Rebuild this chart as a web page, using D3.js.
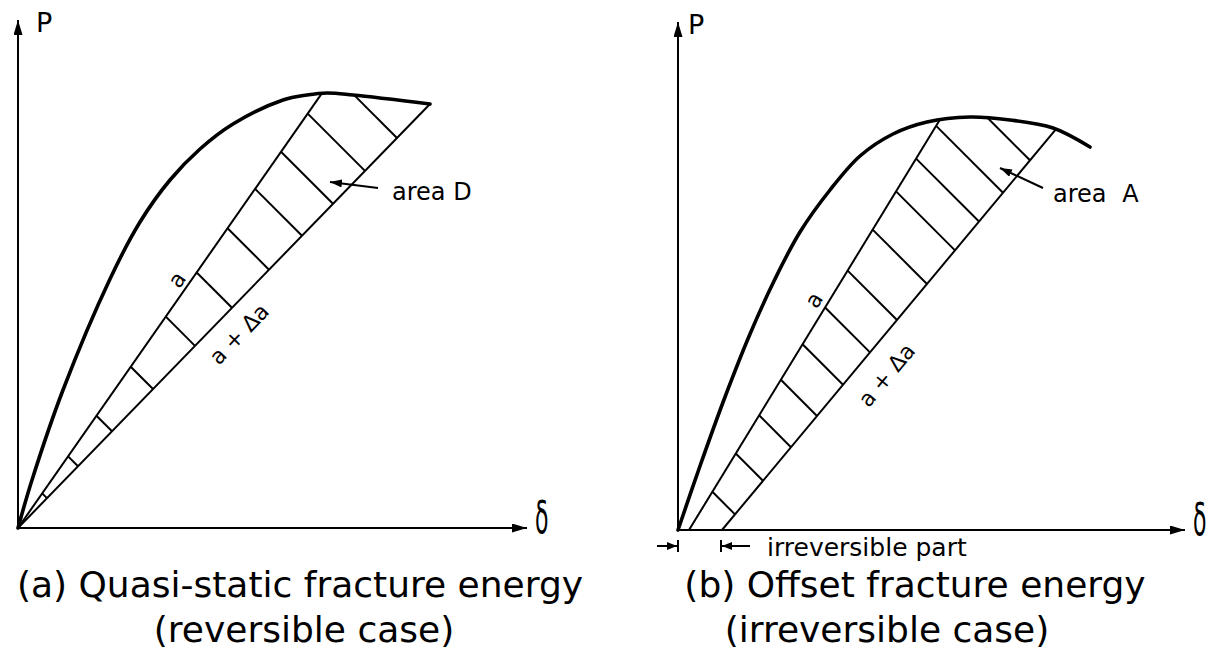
<!DOCTYPE html>
<html>
<head>
<meta charset="utf-8">
<script src="https://cdn.jsdelivr.net/npm/d3@7"></script>
<style>
  html, body { margin: 0; padding: 0; background: #fff; }
  svg { display: block; }
  text { font-family: "DejaVu Sans", sans-serif; fill: #000; }
</style>
</head>
<body>
<svg id="chart" width="1212" height="652"></svg>
<script>
// ---- Panel (a): quasi-static fracture energy (reversible case) ----
// load-displacement record, [δ, P]
const curveA = [[0, 0], [0.28, 0.96], [0.90, 2.76], [1.84, 4.98], [2.44, 6.12], [3.04, 6.96],
                [3.64, 7.58], [4.30, 8.08], [5.30, 8.56], [5.78, 8.66], [6.18, 8.70],
                [6.70, 8.66], [8.24, 8.48]];
// secant lines: [δ at foot, δ where the line meets the curve]
const secantA_a = [0, 6.08];
const secantA_da = [0, 8.24];
// hatch stations along the a + Δa line (δ)
const hatchA = [0.58, 1.20, 1.88, 2.70, 3.54, 4.28, 5.02, 5.68, 6.30, 6.94, 7.58];

// ---- Panel (b): offset fracture energy (irreversible case) ----
const curveB = [[0, 0], [0.44, 1.28], [0.94, 2.66], [1.44, 3.92], [1.94, 5.02], [2.44, 5.96],
                [3.04, 6.80], [3.64, 7.48], [4.30, 7.92], [4.98, 8.16], [5.84, 8.26], [6.64, 8.20],
                [7.50, 8.04], [8.24, 7.66]];
const secantB_a = [0.22, 5.24];
const secantB_da = [0.88, 7.56];
const hatchB = [1.14, 1.70, 2.26, 2.78, 3.30, 3.84, 4.38, 4.98, 5.54, 6.02, 6.50, 7.04];

// ---- text ----
const axisLabels = ["P", "δ"];
const lineLabels = ["a", "a + Δa"];
const areaLabels = ["area D", "area A"];
const captionA = ["(a) Quasi-static fracture energy", "(reversible case)"];
const captionB = ["(b) Offset fracture energy", "(irreversible case)"];
const offsetLabel = "irreversible part";

const svg = d3.select("#chart");
const defs = svg.append("defs");

function addHead(id, len, half) {
  defs.append("marker")
    .attr("id", id)
    .attr("viewBox", `0 ${-half} ${len} ${2 * half}`)
    .attr("refX", len).attr("refY", 0)
    .attr("markerWidth", len).attr("markerHeight", 2 * half)
    .attr("markerUnits", "userSpaceOnUse")
    .attr("orient", "auto")
    .append("path")
    .attr("d", `M0,${-half}L${len},0L0,${half}Z`)
    .attr("fill", "#000");
}
addHead("axisHead", 15, 4.5);
addHead("noteHead", 12, 4);
addHead("dimHead", 10, 4);

function samplePath(node, n) {
  const L = node.getTotalLength();
  const pts = [];
  for (let i = 0; i <= n; i++) {
    const p = node.getPointAtLength(L * i / n);
    pts.push([p.x, p.y]);
  }
  return pts;
}

function drawPanel(cfg) {
  const x = d3.scaleLinear().domain([0, cfg.xMax]).range([cfg.ox, cfg.xEnd]);
  const y = d3.scaleLinear().domain([0, cfg.yMax]).range([cfg.oy, cfg.yEnd]);
  const g = svg.append("g");

  // axes with arrowheads
  g.append("line")
    .attr("x1", x(0)).attr("y1", y(0)).attr("x2", x(0)).attr("y2", y(cfg.yMax))
    .attr("stroke", "#000").attr("stroke-width", 2).attr("marker-end", "url(#axisHead)");
  g.append("line")
    .attr("x1", x(0)).attr("y1", y(0)).attr("x2", x(cfg.xMax)).attr("y2", y(0))
    .attr("stroke", "#000").attr("stroke-width", 2).attr("marker-end", "url(#axisHead)");

  g.append("text").text(axisLabels[0])
    .attr("x", x(0) + cfg.pDx).attr("y", y(cfg.yMax) + 12)
    .attr("font-size", 27);
  g.append("text").text(axisLabels[1])
    .attr("transform", `translate(${x(cfg.xMax) + 8},${y(0) + 5}) scale(0.5,1)`)
    .attr("font-size", 44);

  // load-displacement curve
  const line = d3.line().x(d => x(d[0])).y(d => y(d[1])).curve(d3.curveCatmullRom.alpha(0.5));
  const path = g.append("path").datum(cfg.curve)
    .attr("d", line)
    .attr("fill", "none").attr("stroke", "#000")
    .attr("stroke-width", 3.6).attr("stroke-linejoin", "round").attr("stroke-linecap", "round");

  const samples = samplePath(path.node(), 1200);
  const curveYAt = px => {
    for (let i = 0; i < samples.length - 1; i++) {
      const [x0, y0] = samples[i], [x1, y1] = samples[i + 1];
      if ((px >= x0 && px <= x1) || (px <= x0 && px >= x1)) {
        const t = x1 === x0 ? 0 : (px - x0) / (x1 - x0);
        return y0 + t * (y1 - y0);
      }
    }
    return samples[samples.length - 1][1];
  };

  const foot = d => [x(d), y(0)];
  const onCurve = d => [x(d), curveYAt(x(d))];
  const aF = foot(cfg.secA[0]), aT = onCurve(cfg.secA[1]);
  const bF = foot(cfg.secB[0]), bT = onCurve(cfg.secB[1]);

  [[aF, aT], [bF, bT]].forEach(([F, T]) => {
    g.append("line")
      .attr("x1", F[0]).attr("y1", F[1]).attr("x2", T[0]).attr("y2", T[1])
      .attr("stroke", "#000").attr("stroke-width", 2);
  });

  // hatching at 45° from the a + Δa line back to the a line (or the curve)
  cfg.hatch.forEach(d => {
    const s0 = (x(d) - bF[0]) / (bT[0] - bF[0]);
    const L = [x(d), bF[1] + s0 * (bT[1] - bF[1])];
    const dx = aT[0] - aF[0], dy = aT[1] - aF[1];
    const s = (L[0] - L[1] - aF[0] + aF[1]) / (dx - dy);
    let U;
    if (s <= 1) {
      U = [aF[0] + s * dx, aF[1] + s * dy];
    } else {
      const f = t => (L[1] - t) - curveYAt(L[0] - t);
      let lo = 0, hi = 200;
      for (let k = 0; k < 60; k++) {
        const mid = (lo + hi) / 2;
        if (f(mid) > 0) lo = mid; else hi = mid;
      }
      U = [L[0] - lo, L[1] - lo];
    }
    g.append("line")
      .attr("x1", U[0]).attr("y1", U[1]).attr("x2", L[0]).attr("y2", L[1])
      .attr("stroke", "#000").attr("stroke-width", 2);
  });

  // labels running along the secant lines
  function alongLabel(F, T, t, off, txt) {
    const len = Math.hypot(T[0] - F[0], T[1] - F[1]);
    const ux = (T[0] - F[0]) / len, uy = (T[1] - F[1]) / len;
    const nx = -uy, ny = ux;
    const px = F[0] + t * (T[0] - F[0]) + off * nx;
    const py = F[1] + t * (T[1] - F[1]) + off * ny;
    const ang = Math.atan2(uy, ux) * 180 / Math.PI;
    g.append("text").text(txt)
      .attr("transform", `translate(${px},${py}) rotate(${ang})`)
      .attr("text-anchor", "middle").attr("font-size", 22);
  }
  alongLabel(aF, aT, cfg.aLab[0], cfg.aLab[1], lineLabels[0]);
  alongLabel(bF, bT, cfg.bLab[0], cfg.bLab[1], lineLabels[1]);

  // area call-out
  g.append("line")
    .attr("x1", x(cfg.note.tail[0])).attr("y1", y(cfg.note.tail[1]))
    .attr("x2", x(cfg.note.tip[0])).attr("y2", y(cfg.note.tip[1]))
    .attr("stroke", "#000").attr("stroke-width", 2).attr("marker-end", "url(#noteHead)");
  g.append("text").text(cfg.note.label)
    .attr("x", x(cfg.note.text[0])).attr("y", y(cfg.note.text[1]))
    .attr("font-size", 24).attr("word-spacing", cfg.note.gap);

  // caption
  cfg.caption.forEach((c, i) => {
    svg.append("text").text(c)
      .attr("x", cfg.capX[i]).attr("y", 597 + i * 45)
      .attr("text-anchor", "middle").attr("font-size", 36);
  });

  return { x, y, bF };
}

drawPanel({
  curve: curveA, secA: secantA_a, secB: secantA_da, hatch: hatchA,
  xMax: 10.18, yMax: 10.16, ox: 18, oy: 528, xEnd: 527, yEnd: 20, pDx: 18,
  aLab: [0.555, -4.5], bLab: [0.496, 31],
  note: { tip: [6.24, 6.92], tail: [7.2, 6.8], text: [7.48, 6.56], label: areaLabels[0], gap: 0 },
  caption: captionA, capX: [300, 304]
});

const pb = drawPanel({
  curve: curveB, secA: secantB_a, secB: secantB_da, hatch: hatchB,
  xMax: 10.14, yMax: 10.16, ox: 678, oy: 530, xEnd: 1185, yEnd: 22, pDx: 10,
  aLab: [0.543, -6], bLab: [0.43, 35],
  note: { tip: [6.44, 7.24], tail: [7.30, 6.84], text: [7.5, 6.56], label: areaLabels[1], gap: 8 },
  caption: captionB, capX: [915, 887]
});

// dimension marks for the irreversible part of panel (b)
const dimY = pb.y(-0.32);
const x0 = pb.x(0), x1 = pb.bF[0] - 1;
const dim = svg.append("g").attr("stroke", "#000").attr("stroke-width", 2);
dim.append("line").attr("x1", x0).attr("x2", x0).attr("y1", dimY - 6).attr("y2", dimY + 6);
dim.append("line").attr("x1", x0 - 21).attr("x2", x0 - 1).attr("y1", dimY).attr("y2", dimY)
  .attr("marker-end", "url(#dimHead)");
dim.append("line").attr("x1", x1).attr("x2", x1).attr("y1", dimY - 6).attr("y2", dimY + 6);
dim.append("line").attr("x1", x1 + 29).attr("x2", x1 + 1).attr("y1", dimY).attr("y2", dimY)
  .attr("marker-end", "url(#dimHead)");
svg.append("text").text(offsetLabel)
  .attr("x", x1 + 46).attr("y", dimY + 10).attr("font-size", 25);
</script>
</body>
</html>
